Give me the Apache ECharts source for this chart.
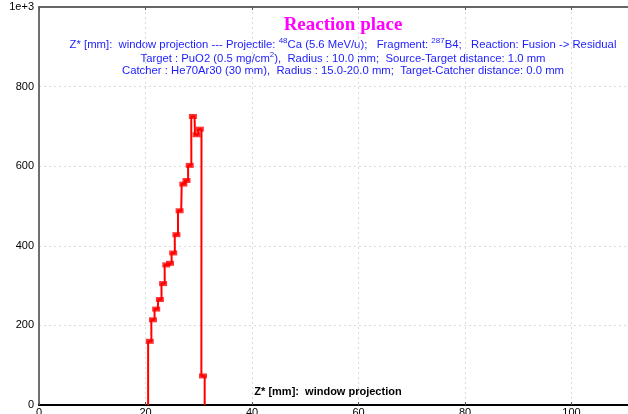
<!DOCTYPE html>
<html>
<head>
<meta charset="utf-8">
<script src="https://cdn.jsdelivr.net/npm/echarts@6/dist/echarts.min.js"></script>
<style>
html,body{margin:0;padding:0;background:#fff;}
#c{width:628px;height:414px;}
</style>
</head>
<body>
<div id="c"></div>
<script>
// Histogram bin centres (Z*, mm) and counts
var binCenters = [20.8, 21.4, 22.0, 22.7, 23.3, 23.9, 24.6, 25.2, 25.8, 26.4, 27.1, 27.7, 28.3, 28.9, 29.6, 30.2, 30.8];
var counts = [160, 214, 241, 265, 305, 352, 356, 382, 428, 488, 555, 564, 602, 725, 679, 693, 73];
var binHalfWidth = 0.31;
var xTicks = [0, 20, 40, 60, 80, 100];
var yTicks = [0, 200, 400, 600, 800, 1000];

var titleText = 'Reaction place';
var infoLine1 = ['Z* [mm]:  window projection --- Projectile: ', '48', 'Ca (5.6 MeV/u);   Fragment: ', '287', 'B4;   Reaction: Fusion -> Residual'];
var infoLine2 = ['Target : PuO2 (0.5 mg/cm', '2', '),  Radius : 10.0 mm;  Source-Target distance: 1.0 mm'];
var infoLine3 = 'Catcher : He70Ar30 (30 mm),  Radius : 15.0-20.0 mm;  Target-Catcher distance: 0.0 mm';
var xAxisTitle = 'Z* [mm]:  window projection';

// build step outline from the bins
var stepPts = [];
for (var i = 0; i < binCenters.length; i++) {
  var l = binCenters[i] - binHalfWidth, r = binCenters[i] + binHalfWidth;
  if (i === 0) stepPts.push([l, 0]);
  stepPts.push([l, counts[i]]);
  stepPts.push([r, counts[i]]);
  if (i === binCenters.length - 1) stepPts.push([r, 0]);
}
var markerPts = binCenters.map(function (c, i) { return [c, counts[i]]; });

function richLine(parts) {
  var s = '';
  parts.forEach(function (p, i) { s += (i % 2 === 1) ? '{s|' + p + '}' : '{n|' + p + '}'; });
  return s;
}
var blue = '#1c1cff';
var richStyles = {
  n: {fontFamily: 'Liberation Sans', fontSize: 11.3, fill: blue, color: blue, lineHeight: 13, verticalAlign: 'bottom'},
  s: {fontFamily: 'Liberation Sans', fontSize: 8, fill: blue, color: blue, lineHeight: 13, verticalAlign: 'top'}
};

var chart = echarts.init(document.getElementById('c'), null, {renderer: 'canvas'});
chart.setOption({
  animation: false,
  backgroundColor: '#fff',
  grid: {left: 39, right: 0, top: 7, bottom: 9, containLabel: false, outerBoundsMode: 'none'},
  xAxis: [{
    type: 'value', min: 0, max: 110.6, interval: 20,
    axisLine: {show: true, onZero: false, lineStyle: {color: '#000', width: 2}},
    axisTick: {show: true, length: 3, inside: true, lineStyle: {color: '#555'}},
    axisLabel: {show: true, color: '#000', fontFamily: 'Liberation Sans', fontSize: 11, margin: 2, showMaxLabel: false,
      formatter: function (v) { return xTicks.indexOf(v) >= 0 ? String(v) : ''; }},
    splitLine: {show: true, lineStyle: {color: '#dadada', type: [2, 3], width: 1}}
  }, {
    type: 'value', min: 0, max: 110.6, interval: 20, position: 'top',
    axisLine: {show: true, onZero: false, lineStyle: {color: '#666', width: 2}},
    axisTick: {show: true, length: 3, inside: true, lineStyle: {color: '#555'}},
    axisLabel: {show: false}, splitLine: {show: false}
  }],
  yAxis: {
    type: 'value', min: 0, max: 1000, interval: 200,
    axisLine: {show: true, onZero: false, lineStyle: {color: '#707070', width: 2}},
    axisTick: {show: false},
    axisLabel: {color: '#000', fontFamily: 'Liberation Sans', fontSize: 11, margin: 5,
      formatter: function (v) { return v === 1000 ? '1e+3' : (yTicks.indexOf(v) >= 0 ? String(v) : ''); }},
    splitLine: {show: true, lineStyle: {color: '#dadada', type: [2, 3], width: 1}}
  },
  series: [{
    type: 'line', data: stepPts, showSymbol: false, symbol: 'none',
    lineStyle: {color: '#ff0000', width: 2}, z: 3
  }, {
    type: 'scatter', data: markerPts, symbol: 'rect', symbolSize: [8, 5],
    itemStyle: {color: '#ff0000'}, z: 4
  }],
  graphic: [{
    type: 'text', x: 343, y: 16,
    style: {text: titleText, fill: '#ff00ff', font: 'bold 19px "Liberation Serif"', textAlign: 'center'}
  }, {
    type: 'text', x: 343, y: 37,
    style: {text: richLine(infoLine1), textAlign: 'center', fill: blue, rich: richStyles}
  }, {
    type: 'text', x: 343, y: 51,
    style: {text: richLine(infoLine2), textAlign: 'center', fill: blue, rich: richStyles}
  }, {
    type: 'text', x: 343, y: 65,
    style: {text: infoLine3, textAlign: 'center', fill: blue, font: '11.3px "Liberation Sans"'}
  }, {
    type: 'text', x: 328, y: 386,
    style: {text: xAxisTitle, textAlign: 'center', fill: '#000', font: 'bold 11px "Liberation Sans"'}
  }]
});
</script>
</body>
</html>
